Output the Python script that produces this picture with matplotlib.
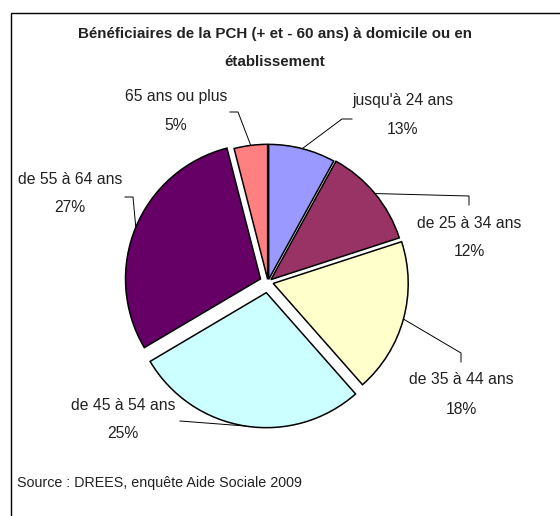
import numpy as np
import matplotlib
matplotlib.use('Agg')
import matplotlib.pyplot as plt
from matplotlib.patches import Rectangle

W, H = 560, 516

# slice sizes as drawn in the picture, and the percentages printed on the labels
labels = ["jusqu'à 24 ans", 'de 25 à 34 ans', 'de 35 à 44 ans',
          'de 45 à 54 ans', 'de 55 à 64 ans', '65 ans ou plus']
shares = [8, 12, 18.5, 28, 29.5, 4]
pct_text = ['13%', '12%', '18%', '25%', '27%', '5%']
colors = ['#9999FF', '#993366', '#FFFFCC', '#CCFFFF', '#660066', '#FF8080']
explode = [0.02, 0.028, 0.04, 0.08, 0.06, 0.02]   # fraction of radius

title = 'Bénéficiaires de la PCH (+ et - 60 ans) à domicile ou en\nétablissement'
source = 'Source : DREES, enquête Aide Sociale 2009'

# label placement (image pixels, y measured from top)
label_pos = [(403, 101), (469, 223), (461, 380), (123, 405), (70, 179), (176, 96)]
leader_mid = [(342, 119), (469, 196), (461, 353), None, (133, 197), (238, 112)]
leader_end = [(352, 119), (469, 205), (461, 362), (180, 421), (125, 197), (230, 112)]

FONT = ['Liberation Sans', 'DejaVu Sans']
TXT = '#222222'
R = 135


def Y(y):
    return H - y


fig = plt.figure(figsize=(W / 100, H / 100), dpi=100)
ax = fig.add_axes([0, 0, 1, 1])

# frame (runs off the right and bottom edge)
ax.add_patch(Rectangle((11, -20), W + 20, Y(13) + 20, fill=False,
                       edgecolor='black', linewidth=1.0))

wedges, _ = ax.pie(shares, colors=colors, explode=[e * R for e in explode],
                   startangle=90, counterclock=False, center=(268, Y(282)),
                   radius=R, wedgeprops=dict(edgecolor='black', linewidth=1.1),
                   frame=True)
ax.set_xlim(0, W)
ax.set_ylim(0, H)
ax.set_aspect('equal')
ax.axis('off')

for i, w in enumerate(wedges):
    ang = np.deg2rad((w.theta1 + w.theta2) / 2)
    cx, cy = w.center
    sx, sy = cx + w.r * np.cos(ang), cy + w.r * np.sin(ang)
    xs, ys = [sx], [sy]
    if leader_mid[i] is not None:
        xs.append(leader_mid[i][0])
        ys.append(Y(leader_mid[i][1]))
    xs.append(leader_end[i][0])
    ys.append(Y(leader_end[i][1]))
    ax.plot(xs, ys, color='black', linewidth=0.7)

    lx, ly = label_pos[i]
    ax.text(lx, Y(ly), labels[i], ha='center', va='center',
            fontsize=11.3, family=FONT, color=TXT)
    ax.text(lx, Y(ly + 29), pct_text[i], ha='center', va='center',
            fontsize=11.3, family=FONT, color=TXT)

ax.text(275, Y(48), title, ha='center', va='center', fontsize=10.9,
        fontweight='bold', family=FONT, color=TXT, linespacing=2.25)
ax.text(17, Y(483), source, ha='left', va='center', fontsize=10.3,
        family=FONT, color=TXT)

fig.savefig('out.png', dpi=100)
